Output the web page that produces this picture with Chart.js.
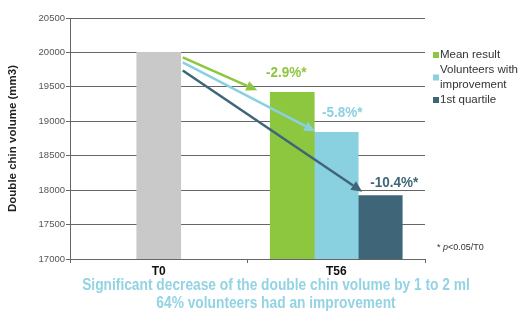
<!DOCTYPE html>
<html>
<head>
<meta charset="utf-8">
<script src="https://cdn.jsdelivr.net/npm/chart.js@4.4.1/dist/chart.umd.min.js"></script>
<style>
  html, body { margin: 0; padding: 0; background: #fff; }
  #wrap { width: 518px; height: 317px; position: relative; }
</style>
</head>
<body>
<div id="wrap"><canvas id="chin-chart"></canvas></div>
<script>
var categories = ["T0", "T56"];
var seriesNames = ["Baseline", "Mean result", "Volunteers with improvement", "1st quartile"];
var baselineValues = [20000, null];
var meanValues = [null, 19420];
var volunteerValues = [null, 18840];
var quartileValues = [null, 17920];
var changeLabels = ["-2.9%*", "-5.8%*", "-10.4%*"];
var yTickValues = [17000, 17500, 18000, 18500, 19000, 19500, 20000, 20500];
var yTitle = "Double chin volume (mm3)";
var captionLines = ["Significant decrease of the double chin volume by 1 to 2 ml", "64% volunteers had an improvement"];
var footnote = ["* ", "p", "<0.05/T0"];

var colors = ["#c9c9c9", "#8dc63f", "#89d0e1", "#3f6678"];
var font = "'Liberation Sans', Arial, sans-serif";

// where each arrow starts / ends relative to the bars (pixels)
var arrowStyle = [
  { startDy: 5, endDx: -13, endDy: -2, labelDx: -6, labelDy: -15 },
  { startDy: 10, endDx: 1, endDy: -1, labelDx: 6, labelDy: -15 },
  { startDy: 18, endDx: 4, endDy: -4, labelDx: 14, labelDy: -9 }
];

// no narrow font installed, so squeeze the text horizontally
function condensedText(c, text, x, y, sx) {
  c.save();
  c.translate(x, y);
  c.scale(sx, 1);
  c.fillText(text, 0, 0);
  c.restore();
}

function drawArrow(c, x1, y1, x2, y2, color) {
  var ang = Math.atan2(y2 - y1, x2 - x1);
  var len = 11, half = 5;
  var bx = x2 - len * Math.cos(ang), by = y2 - len * Math.sin(ang);
  c.strokeStyle = color;
  c.lineWidth = 2.5;
  c.beginPath();
  c.moveTo(x1, y1);
  c.lineTo(bx, by);
  c.stroke();
  c.fillStyle = color;
  c.beginPath();
  c.moveTo(x2, y2);
  c.lineTo(bx + half * Math.sin(ang), by - half * Math.cos(ang));
  c.lineTo(bx - half * Math.sin(ang), by + half * Math.cos(ang));
  c.closePath();
  c.fill();
}

const arrowPlugin = {
  id: "arrows",
  afterDatasetsDraw(chart) {
    var c = chart.ctx;
    var base = chart.getDatasetMeta(0).data[0];
    var x0 = base.x + base.width / 2 + 2;
    c.save();
    for (var i = 0; i < 3; i++) {
      var bar = chart.getDatasetMeta(i + 1).data[1];
      var s = arrowStyle[i];
      var left = bar.x - bar.width / 2;
      drawArrow(c, x0, base.y + s.startDy, left + s.endDx, bar.y + s.endDy, colors[i + 1]);
      c.fillStyle = colors[i + 1];
      c.font = "bold 15px " + font;
      c.textAlign = "center";
      c.textBaseline = "alphabetic";
      condensedText(c, changeLabels[i], bar.x + s.labelDx, bar.y + s.labelDy, 0.9);
    }
    c.restore();
  }
};

const extrasPlugin = {
  id: "extras",
  afterDraw(chart) {
    var c = chart.ctx;
    c.save();
    // legend
    c.font = "11.5px " + font;
    c.textBaseline = "middle";
    c.textAlign = "left";
    var y = 55;
    for (var i = 1; i < chart.data.datasets.length; i++) {
      var words = chart.data.datasets[i].label.split(" ");
      var lines = [], cur = "";
      words.forEach(function (w) {
        var t = cur ? cur + " " + w : w;
        if (c.measureText(t).width > 90 && cur) { lines.push(cur); cur = w; } else { cur = t; }
      });
      lines.push(cur);
      var mid = y + (lines.length - 1) * 15 / 2;
      c.fillStyle = colors[i];
      c.fillRect(433, mid - 3, 6, 6);
      c.fillStyle = "#333";
      lines.forEach(function (l, k) { c.fillText(l, 440, y + k * 15); });
      y += lines.length * 15;
    }
    // footnote
    var fx = 437;
    c.textBaseline = "alphabetic";
    footnote.forEach(function (part, k) {
      c.font = (k === 1 ? "italic " : "") + "9px " + font;
      c.fillText(part, fx, 250);
      fx += c.measureText(part).width;
    });
    // caption
    c.font = "bold 16px " + font;
    c.fillStyle = "#92d3e4";
    c.textAlign = "center";
    condensedText(c, captionLines[0], 276, 290, 0.86);
    condensedText(c, captionLines[1], 276, 308, 0.86);
    c.restore();
  }
};

const ctx = document.getElementById("chin-chart");

const chinChart = new Chart(ctx, {
  type: "bar",
  data: {
    labels: categories,
    datasets: [
      { label: seriesNames[0], data: baselineValues, backgroundColor: colors[0] },
      { label: seriesNames[1], data: meanValues, backgroundColor: colors[1] },
      { label: seriesNames[2], data: volunteerValues, backgroundColor: colors[2] },
      { label: seriesNames[3], data: quartileValues, backgroundColor: colors[3] }
    ]
  },
  options: {
    responsive: true,
    maintainAspectRatio: false,
    animation: false,
    skipNull: true,
    datasets: {
      bar: { barThickness: 44, skipNull: true }
    },
    layout: { padding: { top: 18, right: 93, left: 0, bottom: 0 } },
    plugins: {
      legend: { display: false },
      tooltip: { enabled: false }
    },
    scales: {
      x: {
        afterFit: function (axis) { axis.height = 58; },
        grid: { drawOnChartArea: false, drawTicks: true, tickLength: 4, color: "#666" },
        border: { color: "#666", width: 1 },
        ticks: { color: "#111", padding: 1, font: { family: font, size: 12, weight: "bold" } }
      },
      y: {
        min: 17000,
        max: 20500,
        afterFit: function (axis) { axis.width = 70; },
        afterBuildTicks: function (axis) {
          axis.ticks = yTickValues.map(function (v) { return { value: v }; });
        },
        grid: { color: "#666", tickLength: 4, drawTicks: true },
        border: { color: "#666", width: 1 },
        ticks: {
          color: "#555",
          padding: 1,
          font: { family: font, size: 9.5 },
          callback: function (v) { return String(v); }
        },
        title: {
          display: true,
          text: yTitle,
          color: "#222",
          padding: { top: 6, bottom: 0 },
          font: { family: font, size: 11.5, weight: "bold" }
        }
      }
    }
  },
  plugins: [arrowPlugin, extrasPlugin]
});
</script>
</body>
</html>
